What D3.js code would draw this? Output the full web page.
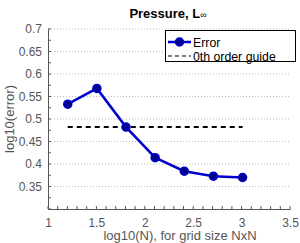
<!DOCTYPE html>
<html>
<head>
<meta charset="utf-8">
<script src="https://cdn.jsdelivr.net/npm/d3@7.9.0/dist/d3.min.js"></script>
<style>
  body { margin: 0; background: #fff; }
  svg { display: block; font-family: "Liberation Sans", Arial, sans-serif; }
</style>
</head>
<body>
<svg width="300" height="243"></svg>
<script>
// grid sizes N = 16 ... 1024, plotted as log10(N)
const logN = [1.204, 1.505, 1.806, 2.107, 2.408, 2.709, 3.010];
const logErr = [0.533, 0.568, 0.482, 0.414, 0.384, 0.373, 0.370];
const guideX = [1.204, 3.010];
const guideY = [0.482, 0.482];
const xTicks = [1, 1.5, 2, 2.5, 3, 3.5];
const yTicks = [0.35, 0.4, 0.45, 0.5, 0.55, 0.6, 0.65, 0.7];
const legendLabels = ["Error", "0th order guide"];

const svg = d3.select('svg');
const grey = '#555';

const x = d3.scaleLinear().domain([1, 3.5]).range([48, 290]);
const y = d3.scaleLinear().domain([0.3, 0.7]).range([209, 29]);

// dotted grid
svg.append('g').selectAll('line').data(yTicks).join('line')
  .attr('x1', x(1)).attr('x2', x(3.5))
  .attr('y1', d => y(d)).attr('y2', d => y(d))
  .attr('stroke', '#bbb').attr('stroke-width', 1)
  .attr('stroke-dasharray', '1,2');

// x axis
let xAxis = svg.append('g').attr('transform', `translate(0,${y(0.3)})`)
  .call(d3.axisBottom(x).tickValues(xTicks).tickSize(0).tickPadding(9)
    .tickFormat(d3.format('')));
xAxis.select('.domain').attr('stroke', grey);
xAxis.selectAll('text').attr('fill', grey).attr('font-size', 12);
xAxis.selectAll('.minor').data(d3.range(1, 3.51, 0.1)).join('line')
  .attr('x1', d => x(d)).attr('x2', d => x(d))
  .attr('y1', 0).attr('y2', -3).attr('stroke', grey);

// y axis
let yAxis = svg.append('g').attr('transform', `translate(${x(1)},0)`)
  .call(d3.axisLeft(y).tickValues(yTicks).tickSize(0).tickPadding(6)
    .tickFormat(d3.format('')));
yAxis.select('.domain').attr('stroke', grey);
yAxis.selectAll('text').attr('fill', grey).attr('font-size', 12);
yAxis.selectAll('.minor').data(d3.range(0.3, 0.701, 0.025)).join('line')
  .attr('x1', 0).attr('x2', 3)
  .attr('y1', d => y(d)).attr('y2', d => y(d)).attr('stroke', grey);

// axis labels
svg.append('text').attr('x', 180).attr('y', 240).attr('text-anchor', 'middle')
  .attr('fill', grey).attr('font-size', 13).text('log10(N), for grid size NxN');
svg.append('text').attr('transform', 'translate(14,119) rotate(-90)')
  .attr('text-anchor', 'middle').attr('fill', grey).attr('font-size', 13)
  .text('log10(error)');

// title
let title = svg.append('text').attr('x', 168).attr('y', 18).attr('text-anchor', 'middle')
  .attr('font-size', 13).attr('font-weight', 'bold').attr('fill', '#000');
title.append('tspan').text('Pressure, L');
title.append('tspan').attr('font-size', 9).attr('font-weight', 'normal').text('∞');

// guide line
svg.append('path')
  .attr('d', d3.line().x(d => x(d[0])).y(d => y(d[1]))(d3.zip(guideX, guideY)))
  .attr('fill', 'none').attr('stroke', '#000').attr('stroke-width', 2)
  .attr('stroke-dasharray', '5,4');

// error line
const pts = d3.zip(logN, logErr);
svg.append('path')
  .attr('d', d3.line().x(d => x(d[0])).y(d => y(d[1]))(pts))
  .attr('fill', 'none').attr('stroke', '#0000cc').attr('stroke-width', 2.5);
svg.append('g').selectAll('circle').data(pts).join('circle')
  .attr('cx', d => x(d[0])).attr('cy', d => y(d[1])).attr('r', 4)
  .attr('fill', '#00008b').attr('stroke', '#0000cc').attr('stroke-width', 1.5);

// legend
let legend = svg.append('g');
legend.append('rect').attr('x', 165.5).attr('y', 30.5).attr('width', 130).attr('height', 31)
  .attr('fill', '#fff').attr('stroke', '#000').attr('stroke-width', 1);
legend.append('line').attr('x1', 168).attr('x2', 191).attr('y1', 42).attr('y2', 42)
  .attr('stroke', '#0000cc').attr('stroke-width', 2.5);
legend.append('circle').attr('cx', 179.5).attr('cy', 42).attr('r', 4)
  .attr('fill', '#00008b').attr('stroke', '#0000cc').attr('stroke-width', 1.5);
legend.append('line').attr('x1', 168).attr('x2', 191).attr('y1', 56).attr('y2', 56)
  .attr('stroke', '#000').attr('stroke-width', 1.2).attr('stroke-dasharray', '4,3');
legend.selectAll('.lab').data(legendLabels).join('text')
  .attr('x', 193).attr('y', (d, i) => 46.5 + i * 14)
  .attr('font-size', 12.3).attr('fill', '#000').text(d => d);
</script>
</body>
</html>
